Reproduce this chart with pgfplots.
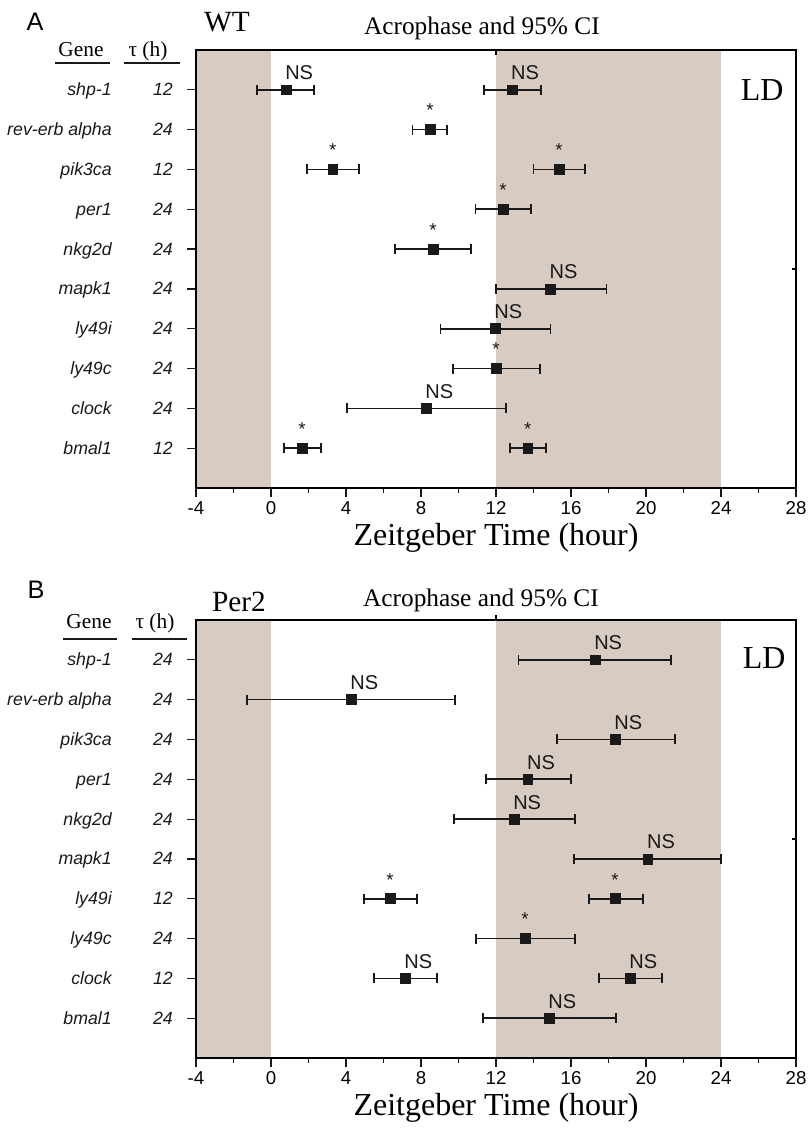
\documentclass[border=0pt]{standalone}
\usepackage{fontspec}
\setmainfont{Liberation Serif}
\newfontfamily\arial{Liberation Sans}
\usepackage{pgfplots}
\pgfplotsset{compat=1.18}
\usepackage{pgfplotstable}
\definecolor{ldgray}{RGB}{215,203,194}
\definecolor{ink}{RGB}{25,25,25}

% Panel A (WT)
\pgfplotstableread{
x y lo hi
8.48 9 7.55 9.39
3.30 8 1.93 4.70
15.36 8 14.00 16.75
12.37 7 10.90 13.87
8.64 6 6.60 10.67
12.00 3 9.70 14.35
1.65 1 0.69 2.67
13.70 1 12.75 14.67
}\Asig
\pgfplotstableread{
x y lo hi
0.80 10 -0.75 2.30
12.85 10 11.36 14.40
14.90 5 12.00 17.90
11.95 4 9.05 14.90
8.27 2 4.05 12.53
}\Ans
% Panel B (Per2)
\pgfplotstableread{
x y lo hi
6.35 4 4.96 7.80
18.35 4 16.96 19.84
13.55 3 10.93 16.21
}\Bsig
\pgfplotstableread{
x y lo hi
17.28 10 13.20 21.33
4.27 9 -1.28 9.81
18.35 8 15.25 21.55
13.70 7 11.47 16.00
12.96 6 9.76 16.20
20.10 5 16.16 24.00
7.15 2 5.49 8.85
19.15 2 17.50 20.85
14.83 1 11.31 18.40
}\Bns

\pgfplotsset{
  panel/.style={
    scale only axis, width=450pt, height=328.5pt,
    xmin=-4, xmax=28, ymin=0, ymax=11,
    axis x line*=bottom, axis y line*=left,
    xtick={-4,0,...,28}, minor x tick num=1,
    ytick={1,...,10}, yticklabels={},
    tick align=outside,
    major tick length=6.5pt, minor tick length=3.5pt,
    axis line style={line width=1.1pt, -},
    tick style={line width=0.9pt, ink},
    tick label style={font=\arial\fontsize{14}{16}\selectfont},
    /pgf/number format/assume math mode=true,
    axis on top, clip=false,
    xlabel={Zeitgeber Time (hour)},
    xlabel style={font=\fontsize{24}{28}\selectfont, at={(axis description cs:0.5,0)}, anchor=center, yshift=-37.5pt},
  },
  pts/.style={only marks, mark=square*, mark size=3.7pt, color=ink,
    mark options={fill=ink, draw=ink, line width=0.5pt},
    /pgfplots/error bars/x dir=both, /pgfplots/error bars/x explicit,
    /pgfplots/error bars/error mark=|,
    /pgfplots/error bars/error bar style={line width=1.2pt, draw=ink},
    /pgfplots/error bars/error mark options={mark size=3.75pt, line width=1.2pt, draw=ink},
  },
  sig/.style={pts, nodes near coords={*},
    nodes near coords style={anchor=base, yshift=9.5pt, inner sep=0pt, font=\arial\fontsize{14}{16}\selectfont, text=ink}},
  ns/.style={pts, nodes near coords={NS},
    nodes near coords style={anchor=base west, yshift=7.5pt, xshift=-0.8pt, inner sep=0pt, font=\arial\fontsize{15}{17}\selectfont, text=ink}},
  frame/.style={black, line width=1.1pt, mark=none, forget plot, sharp plot},
}

\newcommand\glab[3]{%
  \node[anchor=base east, inner sep=0pt, font=\arial\itshape\fontsize{13.3}{15}\selectfont, text=ink] at ([xshift=-63pt, yshift=-4.5pt]axis cs:-4,#1) {#2};
  \node[anchor=base east, inner sep=0pt, font=\arial\itshape\fontsize{13.3}{15}\selectfont, text=ink] at ([xshift=-17.25pt, yshift=-4.5pt]axis cs:-4,#1) {#3};}

\begin{document}
\begin{tikzpicture}
\path[use as bounding box] (0,0) rectangle (606pt,-853.5pt);

% ---------------- Panel A ----------------
\begin{axis}[panel, at={(147pt,-366pt)}, anchor=south west]
\fill[ldgray] (axis cs:-4,0) rectangle (axis cs:0,11);
\fill[ldgray] (axis cs:12,0) rectangle (axis cs:24,11);
\addplot[frame] coordinates {(-4,11) (28,11) (28,0)};
\addplot[sig] table[x=x, y=y, x error plus expr={\thisrow{hi}-\thisrow{x}}, x error minus expr={\thisrow{x}-\thisrow{lo}}] {\Asig};
\addplot[ns] table[x=x, y=y, x error plus expr={\thisrow{hi}-\thisrow{x}}, x error minus expr={\thisrow{x}-\thisrow{lo}}] {\Ans};
\glab{10}{shp-1}{12}
\glab{9}{rev-erb alpha}{24}
\glab{8}{pik3ca}{12}
\glab{7}{per1}{24}
\glab{6}{nkg2d}{24}
\glab{5}{mapk1}{24}
\glab{4}{ly49i}{24}
\glab{3}{ly49c}{24}
\glab{2}{clock}{24}
\glab{1}{bmal1}{12}
\node[anchor=base, inner sep=0pt, font=\fontsize{16}{18}\selectfont] at ([xshift=-86.25pt, yshift=-4.5pt]axis cs:-4,11) {Gene};
\node[anchor=base, inner sep=0pt, font=\fontsize{16}{18}\selectfont] at ([xshift=-36pt, yshift=-4.5pt]axis cs:-4,11) {τ (h)};
\draw[line width=1.3pt, ink] ([xshift=-105.75pt, yshift=-9.75pt]axis cs:-4,11) -- ([xshift=-64.5pt, yshift=-9.75pt]axis cs:-4,11);
\draw[line width=1.3pt, ink] ([xshift=-54pt, yshift=-9.75pt]axis cs:-4,11) -- ([xshift=-12pt, yshift=-9.75pt]axis cs:-4,11);
\node[font=\fontsize{22}{26}\selectfont] at ([xshift=23.25pt, yshift=21pt]axis cs:-4,11) {WT};
\node[font=\arial\fontsize{19}{22}\selectfont] at ([xshift=-120.75pt, yshift=21pt]axis cs:-4,11) {A};
\node[font=\fontsize{19}{22}\selectfont] at ([yshift=16pt]axis cs:11.25,11) {Acrophase and 95\% CI};
\node[font=\fontsize{24}{28}\selectfont] at (axis cs:26.2,10) {LD};
\end{axis}

% ---------------- Panel B ----------------
\begin{axis}[panel, at={(147pt,-793.5pt)}, anchor=south west]
\fill[ldgray] (axis cs:-4,0) rectangle (axis cs:0,11);
\fill[ldgray] (axis cs:12,0) rectangle (axis cs:24,11);
\addplot[frame] coordinates {(-4,11) (28,11) (28,0)};
\addplot[sig] table[x=x, y=y, x error plus expr={\thisrow{hi}-\thisrow{x}}, x error minus expr={\thisrow{x}-\thisrow{lo}}] {\Bsig};
\addplot[ns] table[x=x, y=y, x error plus expr={\thisrow{hi}-\thisrow{x}}, x error minus expr={\thisrow{x}-\thisrow{lo}}] {\Bns};
\glab{10}{shp-1}{24}
\glab{9}{rev-erb alpha}{24}
\glab{8}{pik3ca}{24}
\glab{7}{per1}{24}
\glab{6}{nkg2d}{24}
\glab{5}{mapk1}{24}
\glab{4}{ly49i}{12}
\glab{3}{ly49c}{24}
\glab{2}{clock}{12}
\glab{1}{bmal1}{24}
\node[anchor=base, inner sep=0pt, font=\fontsize{16}{18}\selectfont] at ([xshift=-80.25pt, yshift=-6pt]axis cs:-4,11) {Gene};
\node[anchor=base, inner sep=0pt, font=\fontsize{16}{18}\selectfont] at ([xshift=-30.75pt, yshift=-6pt]axis cs:-4,11) {τ (h)};
\draw[line width=1.3pt, ink] ([xshift=-99.75pt, yshift=-14.25pt]axis cs:-4,11) -- ([xshift=-59.25pt, yshift=-14.25pt]axis cs:-4,11);
\draw[line width=1.3pt, ink] ([xshift=-48pt, yshift=-14.25pt]axis cs:-4,11) -- ([xshift=-6.75pt, yshift=-14.25pt]axis cs:-4,11);
\node[font=\fontsize{22}{26}\selectfont] at ([xshift=32.25pt, yshift=13.5pt]axis cs:-4,11) {Per2};
\node[font=\arial\fontsize{19}{22}\selectfont] at ([xshift=-120pt, yshift=22.5pt]axis cs:-4,11) {B};
\node[font=\fontsize{19}{22}\selectfont] at ([yshift=15pt]axis cs:11.2,11) {Acrophase and 95\% CI};
\node[font=\fontsize{24}{28}\selectfont] at (axis cs:26.3,10.05) {LD};
\end{axis}

% top and right frame as thin filled strips, and small extra ticks
\fill[black] (146.6pt,-38.05pt) rectangle (597.55pt,-36.95pt);
\fill[black] (596.45pt,-36.95pt) rectangle (597.55pt,-366.5pt);
\fill[black] (146.6pt,-465.55pt) rectangle (597.55pt,-464.45pt);
\fill[black] (596.45pt,-464.45pt) rectangle (597.55pt,-794pt);
\draw[line width=0.9pt, black] (597pt,-201.75pt) -- ++(-3pt,0pt);
\draw[line width=0.9pt, black] (597pt,-629.25pt) -- ++(-3pt,0pt);
\draw[line width=0.9pt, black] (372pt,-37.5pt) -- ++(0pt,-3.5pt);
\draw[line width=0.9pt, black] (372pt,-465pt) -- ++(0pt,3.5pt);
\end{tikzpicture}
\end{document}
